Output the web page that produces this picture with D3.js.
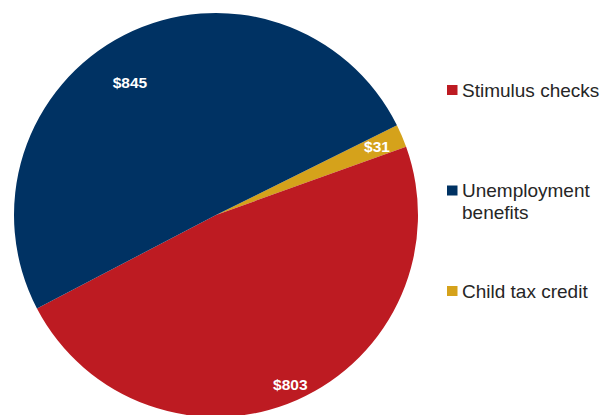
<!DOCTYPE html>
<html>
<head>
<meta charset="utf-8">
<script src="https://cdn.jsdelivr.net/npm/d3@7/dist/d3.min.js"></script>
<style>
  html, body { margin: 0; padding: 0; background: #fff; }
  svg { display: block; }
</style>
</head>
<body>
<svg id="chart" width="605" height="415"></svg>
<script>
// Household relief, $ billions
const categories = ["Child tax credit", "Stimulus checks", "Unemployment benefits"];
const values = [31, 803, 845];
const valueLabels = ["$31", "$803", "$845"];
const legendOrder = ["Stimulus checks", "Unemployment benefits", "Child tax credit"];
const legendLines = [["Stimulus checks"], ["Unemployment", "benefits"], ["Child tax credit"]];

const colors = {
  "Stimulus checks": "#BD1B22",
  "Unemployment benefits": "#003263",
  "Child tax credit": "#D5A21B"
};

const svg = d3.select("#chart");
const cx = 216, cy = 215, R = 202;

const data = categories.map((c, i) => ({ category: c, value: values[i], label: valueLabels[i] }));

const pie = d3.pie()
  .value(d => d.value)
  .sort(null)
  .startAngle(63.6 * Math.PI / 180)
  .endAngle((63.6 + 360) * Math.PI / 180);

const arcs = pie(data);
const arc = d3.arc().innerRadius(0).outerRadius(R);

const g = svg.append("g").attr("transform", `translate(${cx},${cy})`);

g.selectAll("path.slice")
  .data(arcs)
  .join("path")
  .attr("class", "slice")
  .attr("d", arc)
  .attr("fill", d => colors[d.data.category]);

// label placement: radius and small angular nudge per slice
const labelTweak = {
  "Child tax credit": { r: 175, da: 0 },
  "Stimulus checks": { r: 185, da: 0 },
  "Unemployment benefits": { r: 158, da: -6 }
};

const labelLayer = svg.append("g").attr("transform", `translate(${cx},${cy})`);
arcs.forEach(d => {
  const t = labelTweak[d.data.category];
  const a = (d.startAngle + d.endAngle) / 2 + t.da * Math.PI / 180;
  labelLayer.append("text")
    .attr("x", t.r * Math.sin(a))
    .attr("y", -t.r * Math.cos(a) + 5.5)
    .attr("text-anchor", "middle")
    .style("fill", "#ffffff")
    .style("font-family", "'Liberation Sans', Arial, sans-serif")
    .style("font-weight", "bold")
    .style("font-size", "15.5px")
    .text(d.data.label);
});

// legend
const legendY = d3.scalePoint().domain(legendOrder).range([90, 291]);

const lg = svg.append("g");
legendOrder.forEach((name, i) => {
  const y = legendY(name);
  lg.append("rect")
    .attr("x", 447)
    .attr("y", y - 5)
    .attr("width", 10.5)
    .attr("height", 10)
    .attr("fill", colors[name]);
  const t = lg.append("text")
    .attr("x", 462)
    .attr("y", y + 6.5)
    .attr("fill", "#262626")
    .attr("font-family", "'Liberation Sans', Arial, sans-serif")
    .attr("font-size", 19);
  legendLines[i].forEach((line, j) => {
    t.append("tspan").attr("x", 462).attr("dy", j === 0 ? 0 : 21.5).text(line);
  });
});
</script>
</body>
</html>
